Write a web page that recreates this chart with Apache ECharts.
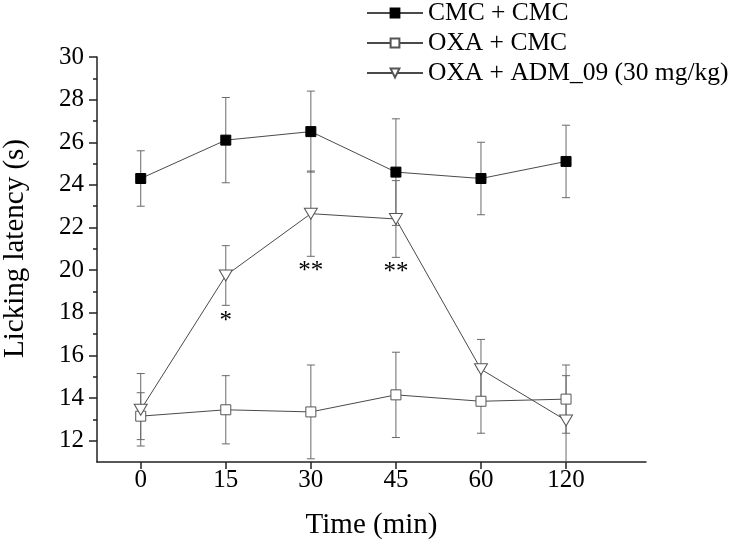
<!DOCTYPE html>
<html>
<head>
<meta charset="utf-8">
<script src="https://cdn.jsdelivr.net/npm/echarts@6/dist/echarts.min.js"></script>
<style>html,body{margin:0;padding:0;background:#fff}#c{width:730px;height:547px}</style>
</head>
<body>
<div id="c"></div>
<script>
// ---- data ----
var timeLabels = ['0', '15', '30', '45', '60', '120'];
var seriesNames = ['CMC + CMC', 'OXA + CMC', 'OXA + ADM_09 (30 mg/kg)'];
var cmcCmc = [24.3, 26.1, 26.5, 24.6, 24.3, 25.1];
var cmcCmcErr = [1.3, 2.0, 1.9, 2.5, 1.7, 1.7];
var oxaCmc = [13.15, 13.45, 13.35, 14.15, 13.85, 13.95];
var oxaCmcErr = [1.1, 1.6, 2.2, 2.0, 1.5, 1.6];
var oxaAdm = [13.45, 19.75, 22.65, 22.4, 15.35, 12.95];
var oxaAdmErr = [1.7, 1.4, 2.0, 1.8, 1.4, 2.1];
var sigMarks = ['', '*', '**', '**', '', ''];
var sigY = [null, 17.6, 19.95, 19.9, null, null];
var yMajorTicks = [12, 14, 16, 18, 20, 22, 24, 26, 28, 30];
var yMinorTicks = [13, 15, 17, 19, 21, 23, 25, 27, 29];

var FONT = '"Liberation Serif", "Times New Roman", serif';
var idx = timeLabels.map(function (_, i) { return i; });

function pts(vals) { return vals.map(function (v, i) { return [i, v]; }); }
function errData(vals, errs) { return vals.map(function (v, i) { return [i, v - errs[i], v + errs[i]]; }); }

function errSeries(vals, errs) {
  return {
    type: 'custom',
    clip: true,
    z: 1,
    silent: true,
    data: errData(vals, errs),
    renderItem: function (params, api) {
      var x = api.value(0);
      var lo = api.coord([x, api.value(1)]);
      var hi = api.coord([x, api.value(2)]);
      var hw = 4;
      var st = { stroke: '#6a6a6a', lineWidth: 1 };
      return {
        type: 'group',
        children: [
          { type: 'line', shape: { x1: lo[0], y1: lo[1], x2: hi[0], y2: hi[1] }, style: st },
          { type: 'line', shape: { x1: lo[0] - hw, y1: lo[1], x2: lo[0] + hw, y2: lo[1] }, style: st },
          { type: 'line', shape: { x1: hi[0] - hw, y1: hi[1], x2: hi[0] + hw, y2: hi[1] }, style: st }
        ]
      };
    }
  };
}

function sigSeries() {
  var data = [];
  sigY.forEach(function (v, i) { if (v != null) data.push([i, v]); });
  return {
    type: 'custom',
    z: 5,
    silent: true,
    clip: false,
    data: data,
    renderItem: function (params, api) {
      var i = api.value(0);
      var p = api.coord([i, api.value(1)]);
      return {
        type: 'text',
        x: p[0], y: p[1],
        style: {
          text: sigMarks[i],
          fill: '#000',
          font: '25px ' + FONT,
          align: 'center',
          verticalAlign: 'middle'
        }
      };
    }
  };
}

var triDown = 'path://M0,0 L12,0 L6,11 Z';

var chart = echarts.init(document.getElementById('c'), null, { renderer: 'canvas' });
chart.setOption({
  animation: false,
  backgroundColor: '#fff',
  textStyle: { fontFamily: FONT },
  grid: { left: 97, right: 84, top: 57, bottom: 85, containLabel: false, outerBoundsMode: 'none' },
  legend: {
    orient: 'vertical',
    left: 366,
    top: 0,
    padding: 0,
    itemWidth: 56,
    itemHeight: 11,
    itemGap: 4,
    textStyle: { fontFamily: FONT, fontSize: 25.5, color: '#000', lineHeight: 25 },
    data: seriesNames
  },
  xAxis: [{
    type: 'value',
    min: -0.514,
    max: 5.94,
    name: 'Time (min)',
    nameLocation: 'middle',
    nameGap: 49,
    nameTextStyle: { fontFamily: FONT, fontSize: 29, color: '#000' },
    splitLine: { show: false },
    axisLine: { onZero: false, lineStyle: { color: '#222', width: 1.5 } },
    axisTick: { customValues: idx, length: 7, lineStyle: { color: '#222', width: 1.5 } },
    axisLabel: {
      customValues: idx,
      margin: 6,
      fontFamily: FONT, fontSize: 25, color: '#000',
      formatter: function (v) { return timeLabels[Math.round(v)]; }
    }
  }],
  yAxis: [{
    type: 'value',
    min: 11,
    max: 30,
    name: 'Licking latency (s)',
    nameLocation: 'middle',
    nameGap: 67,
    nameTextStyle: { fontFamily: FONT, fontSize: 29, color: '#000', padding: [0, 0, 0, 22] },
    splitLine: { show: false },
    axisLine: { onZero: false, lineStyle: { color: '#222', width: 1.5 } },
    axisTick: { customValues: yMajorTicks, length: 8, lineStyle: { color: '#222', width: 1.5 } },
    axisLabel: { customValues: yMajorTicks, margin: 13, fontFamily: FONT, fontSize: 25, color: '#000' }
  }, {
    type: 'value',
    min: 11,
    max: 30,
    position: 'left',
    offset: 0,
    splitLine: { show: false },
    axisLine: { show: false, onZero: false },
    axisLabel: { show: false },
    axisTick: { customValues: yMinorTicks, length: 4, lineStyle: { color: '#222', width: 1.5 } }
  }],
  series: [
    errSeries(cmcCmc, cmcCmcErr),
    errSeries(oxaCmc, oxaCmcErr),
    errSeries(oxaAdm, oxaAdmErr),
    {
      name: seriesNames[0], type: 'line', z: 3, data: pts(cmcCmc),
      symbol: 'rect', symbolSize: 10,
      lineStyle: { color: '#4a4a4a', width: 1 },
      itemStyle: { color: '#000', borderColor: '#000', borderWidth: 1 }
    },
    {
      name: seriesNames[1], type: 'line', z: 3, data: pts(oxaCmc),
      symbol: 'rect', symbolSize: 10,
      lineStyle: { color: '#4a4a4a', width: 1 },
      itemStyle: { color: '#fff', borderColor: '#555', borderWidth: 1 }
    },
    {
      name: seriesNames[2], type: 'line', z: 4, data: pts(oxaAdm),
      symbol: triDown, symbolSize: [13, 11],
      lineStyle: { color: '#4a4a4a', width: 1 },
      itemStyle: { color: '#fff', borderColor: '#555', borderWidth: 1 }
    },
    sigSeries()
  ]
});
</script>
</body>
</html>
